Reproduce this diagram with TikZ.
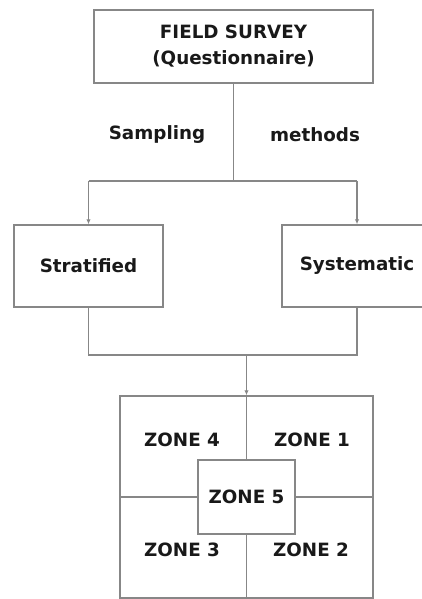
\documentclass[tikz,border=0pt]{standalone}
\usepackage{fontspec}
\setmainfont{DejaVu Sans}
\usetikzlibrary{arrows.meta}
\definecolor{ln}{RGB}{135,135,135}
\definecolor{tx}{RGB}{25,25,25}
\begin{document}
\begin{tikzpicture}[x=1pt,y=-1pt,
  box/.style={draw=ln,line width=1.5pt,rectangle,inner sep=0pt,fill=white},
  lab/.style={font=\fontsize{18.3}{26}\selectfont\bfseries,text=tx},
  conn/.style={draw=ln,line width=1.5pt},
  arr/.style={conn,-{Latex[length=5pt,width=4.5pt]}}]
\clip (0,0) rectangle (422,599);
\fill[white] (0,0) rectangle (422,599);
% boxes
\node[box,lab,align=center,minimum width=279pt,minimum height=73pt] (top) at (233.5,46.5) {FIELD SURVEY\\(Questionnaire)};
\node[lab] (samp) at (157,135) {Sampling};
\node[lab] (meth) at (315,135) {methods};
\node[box,lab,minimum width=149pt,minimum height=82pt] (strat) at (88.5,266) {Stratified};
\node[box,lab,minimum width=150pt,minimum height=82pt] (syst) at (357,266) {Systematic};
\node[box,minimum width=253pt,minimum height=202pt] (zones) at (246.5,497) {};
\node[box,lab,minimum width=97pt,minimum height=74pt] (z5) at (246.5,497) {ZONE 5};
\node[lab] (z4) at (182,440) {ZONE 4};
\node[lab] (z1) at (312,440) {ZONE 1};
\node[lab] (z3) at (182,550) {ZONE 3};
\node[lab] (z2) at (311,550) {ZONE 2};
% coordinates
\coordinate (j1) at (233.5,181);
\coordinate (jl) at (88.5,181);
\coordinate (jr) at (357,181);
\coordinate (jb1) at (88.5,355);
\coordinate (jb2) at (357,355);
\coordinate (jm) at (246.5,355);
% connectors
\draw[conn] (top.south) -- (j1);
\draw[conn] (jl) -- (jr);
\draw[arr] (jl) -- (strat.north);
\draw[arr] (jr) -- (syst.north);
\draw[conn] (strat.south) -- (jb1) -- (jb2) -- (syst.south);
\draw[arr] (jm) -- (zones.north);
% zone dividers
\draw[conn] (zones.north) -- (z5.north);
\draw[conn] (z5.south) -- (zones.south);
\draw[conn] (zones.west) -- (z5.west);
\draw[conn] (z5.east) -- (zones.east);
\end{tikzpicture}
\end{document}
